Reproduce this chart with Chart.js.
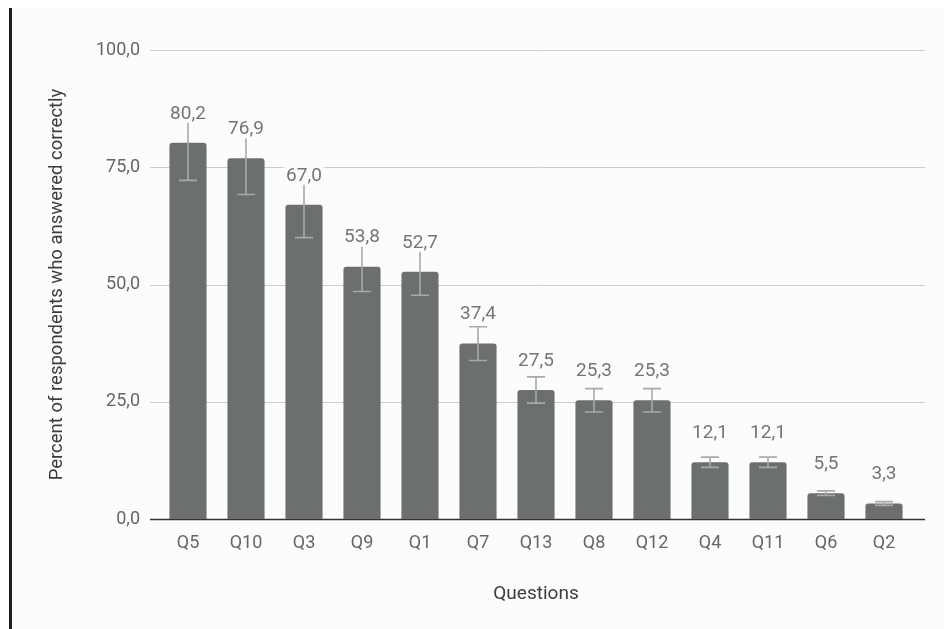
<!DOCTYPE html>
<html>
<head>
<meta charset="utf-8">
<script src="https://cdn.jsdelivr.net/npm/chart.js@4.4.1/dist/chart.umd.min.js"></script>
<style>
  html, body { margin: 0; padding: 0; background: #ffffff; }
  #frame {
    position: absolute; left: 9px; top: 8px; width: 932px; height: 621px;
    border-left: 3px solid #1e1e1e; background: #fcfcfc;
  }
  #wrap { position: absolute; left: 0; top: 0; width: 944px; height: 629px; }
</style>
</head>
<body>
<div id="frame"></div>
<div id="wrap"><canvas id="chart"></canvas></div>
<script>
// 数据
const questions = ['Q5', 'Q10', 'Q3', 'Q9', 'Q1', 'Q7', 'Q13', 'Q8', 'Q12', 'Q4', 'Q11', 'Q6', 'Q2'];
const percentCorrect = [80.2, 76.9, 67.0, 53.8, 52.7, 37.4, 27.5, 25.3, 25.3, 12.1, 12.1, 5.5, 3.3];
const errorMargin = [8.0, 7.7, 7.0, 5.3, 5.0, 3.6, 2.8, 2.5, 2.5, 1.1, 1.1, 0.5, 0.4];
const yTicks = [0, 25, 50, 75, 100];

const fmt = v => Number(v).toFixed(1).replace('.', ',');

// 网格线（比柱子区域更宽）
const gridPlugin = {
    id: 'wideGrid',
    beforeDatasetsDraw(chart) {
        const ctx = chart.ctx;
        const y = chart.scales.y;
        ctx.save();
        yTicks.forEach(t => {
            const py = Math.round(y.getPixelForValue(t)) + 0.5;
            ctx.strokeStyle = t === 0 ? '#333333' : '#cccccc';
            ctx.lineWidth = t === 0 ? 1.5 : 1;
            ctx.beginPath();
            ctx.moveTo(150, py);
            ctx.lineTo(925, py);
            ctx.stroke();
        });
        ctx.restore();
    }
};

// 误差线和数值标签
const errorPlugin = {
    id: 'errorBars',
    afterDatasetsDraw(chart) {
        const ctx = chart.ctx;
        const y = chart.scales.y;
        const bars = chart.getDatasetMeta(0).data;
        ctx.save();
        ctx.strokeStyle = '#a9a9a9';
        ctx.lineWidth = 1.6;
        bars.forEach((bar, i) => {
            const v = percentCorrect[i];
            const e = errorMargin[i];
            const top = y.getPixelForValue(v + e);
            const bot = y.getPixelForValue(v - e);
            ctx.beginPath();
            ctx.moveTo(bar.x, top); ctx.lineTo(bar.x, bot);
            ctx.moveTo(bar.x - 9, top); ctx.lineTo(bar.x + 9, top);
            ctx.moveTo(bar.x - 9, bot); ctx.lineTo(bar.x + 9, bot);
            ctx.stroke();
        });
        ctx.font = '19px Roboto';
        ctx.textAlign = 'center';
        ctx.textBaseline = 'middle';
        bars.forEach((bar, i) => {
            const txt = fmt(percentCorrect[i]);
            const w = ctx.measureText(txt).width;
            const cy = bar.y - 30;
            ctx.fillStyle = '#fcfcfc';
            ctx.fillRect(bar.x - w / 2 - 2, cy - 9, w + 4, 19);
            ctx.fillStyle = '#757575';
            ctx.fillText(txt, bar.x, cy + 1);
        });
        ctx.restore();
    }
};

new Chart(document.getElementById('chart'), {
    type: 'bar',
    data: {
        labels: questions,
        datasets: [{
            data: percentCorrect,
            backgroundColor: '#6b6f6f',
            borderRadius: 3,
            borderSkipped: 'start',
            barPercentage: 0.64,
            categoryPercentage: 1.0
        }]
    },
    options: {
        responsive: true,
        maintainAspectRatio: false,
        animation: false,
        layout: { padding: { left: 42, right: 31, top: 50, bottom: 19 } },
        plugins: { legend: { display: false }, tooltip: { enabled: false } },
        scales: {
            x: {
                grid: { display: false, drawTicks: false },
                border: { display: false },
                ticks: { color: '#666666', font: { family: 'Roboto', size: 18 }, padding: 14 },
                title: { display: true, text: 'Questions', color: '#3c3c3c', font: { family: 'Roboto', size: 19 } },
                afterFit(scale) { scale.height = 91; }
            },
            y: {
                min: 0,
                max: 100,
                grid: { display: false, drawTicks: false },
                border: { display: false },
                afterBuildTicks(scale) { scale.ticks = yTicks.map(v => ({ value: v })); },
                ticks: {
                    color: '#666666', font: { family: 'Roboto', size: 18 }, padding: 19,
                    callback: v => fmt(v)
                },
                title: {
                    display: true, text: 'Percent of respondents who answered correctly',
                    color: '#3c3c3c', font: { family: 'Roboto', size: 18.5 }
                },
                afterFit(scale) { scale.width = 117; }
            }
        }
    },
    plugins: [gridPlugin, errorPlugin]
});
</script>
</body>
</html>
